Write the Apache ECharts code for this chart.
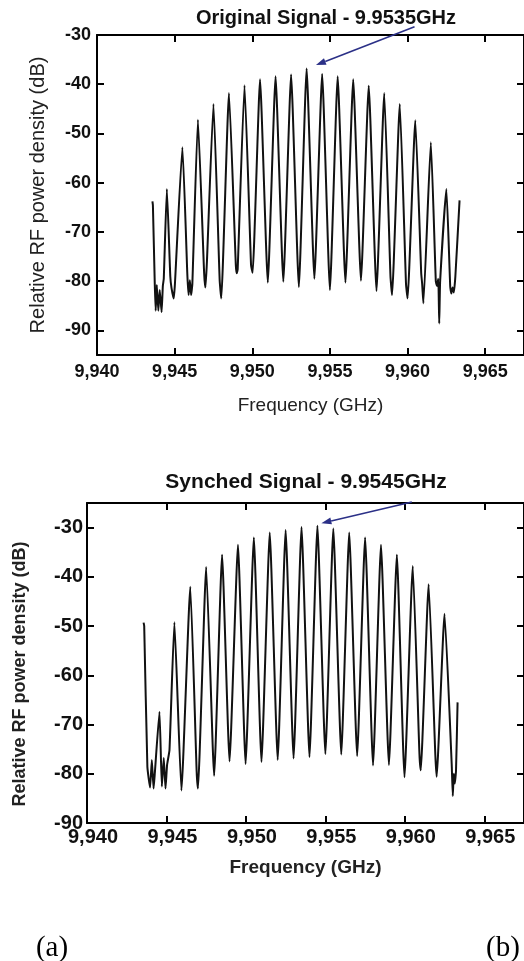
<!DOCTYPE html>
<html><head><meta charset="utf-8">
<script src="https://cdn.jsdelivr.net/npm/echarts@6/dist/echarts.min.js"></script>
<style>html,body{margin:0;padding:0;background:#fff}#c{width:524px;height:961px}</style>
</head><body><div id="c"></div>
<script>
// ---------- data ----------
const xTickValues = [9.940, 9.945, 9.950, 9.955, 9.960, 9.965];
const yTickValues = [-90, -80, -70, -60, -50, -40, -30];
const titleTop = 'Original Signal - 9.9535GHz';
const titleBottom = 'Synched Signal - 9.9545GHz';
const xName = 'Frequency (GHz)';
const yName = 'Relative RF power density (dB)';

// Original signal trace (GHz, dB)
const origFreq = [9.94357,9.94360,9.94372,9.94378,9.94385,9.94395,9.94404,9.94416,9.94424,9.94430,
  9.94450,9.94472,9.94480,9.94494,9.94502,
  9.94550,9.94582,9.94590,9.94598,9.94606,9.94614,
  9.94650,9.94690,9.94698,9.94708,
  9.94750,9.94790,9.94800,
  9.94850,9.94894,9.94900,9.94906,
  9.94950,9.94992,9.95002,
  9.95050,9.95100,9.95150,9.95200,9.95250,9.95300,9.95350,9.95400,9.95450,9.95500,
  9.95550,9.95600,9.95650,9.95700,9.95750,9.95800,9.95850,9.95890,9.95900,
  9.95950,9.95990,9.96000,
  9.96050,9.96088,9.96094,9.96102,
  9.96150,9.96182,9.96190,9.96198,9.96204,9.96210,
  9.96250,9.96275,9.96282,9.96290,9.96298,9.96308,9.96335];
const origDb = [-63.8,-64.6,-80.5,-86.0,-80.8,-86.0,-81.8,-86.3,-81.0,-79.5,
  -61.3,-79.0,-81.4,-83.5,-80.5,
  -52.8,-78.8,-82.8,-79.8,-82.8,-80.6,
  -47.2,-78.4,-81.3,-76.0,
  -44.0,-79.8,-83.5,
  -41.8,-76.7,-78.4,-77.6,
  -40.2,-76.7,-78.3,
  -39.0,-80.3,-38.4,-80.1,-38.0,-81.2,-36.8,-79.5,-37.9,-81.8,
  -38.4,-80.3,-39.0,-79.9,-40.3,-82.0,-41.8,-79.0,-82.8,
  -44.0,-80.5,-83.5,
  -47.3,-78.4,-80.5,-84.5,
  -51.8,-80.0,-81.0,-79.5,-88.6,-80.0,
  -61.3,-81.2,-82.5,-81.3,-82.3,-79.0,-63.6];

// Synched signal trace (GHz, dB)
const syncFreq = [9.94356,9.94360,9.94380,9.94397,9.94408,9.94419,9.94427,
  9.94456,9.94471,9.94483,9.94494,9.94504,9.94519,
  9.94550,9.94594,9.94650,9.94690,9.94698,
  9.94750,9.94792,9.94800,
  9.94850,9.94897,9.94950,9.94998,9.95050,9.95098,9.95150,9.95200,9.95250,9.95300,
  9.95350,9.95400,9.95450,9.95500,9.95550,9.95600,9.95650,9.95700,9.95750,9.95800,
  9.95850,9.95900,9.95950,9.95998,9.96050,9.96092,9.96100,
  9.96150,9.96192,9.96200,9.96250,9.96295,9.96302,9.96308,9.96314,9.96322,9.96332];
const syncDb = [-49.3,-50.0,-78.6,-82.8,-77.2,-83.0,-79.8,
  -67.4,-82.6,-76.8,-83.0,-78.2,-75.2,
  -49.2,-83.4,-42.0,-79.5,-83.0,
  -38.0,-75.2,-80.4,
  -35.5,-77.5,-33.5,-78.0,-32.0,-77.6,-31.0,-77.2,-30.5,-76.9,
  -29.9,-76.6,-29.6,-76.0,-30.2,-76.1,-31.0,-76.4,-32.0,-78.3,
  -33.5,-78.2,-35.5,-80.7,-37.8,-76.0,-79.3,
  -41.5,-76.2,-80.6,-47.5,-78.0,-84.5,-80.0,-82.0,-79.5,-65.5];

// annotation arrows in data space: [fromX, fromY, toX, toY]
const arrowTop = [9.96045, -28.3, 9.95410, -36.1];
const arrowBottom = [9.96044, -24.8, 9.95475, -29.1];

// ---------- chart ----------
const zip = (a, b) => a.map((v, i) => [v, b[i]]);
const fmtX = v => v.toFixed(3).replace('.', ',');
const SANS = 'Liberation Sans';
const AX = {color: '#000', width: 2};

function mainX(grid, fs, bold, nameFs, nameBold, nameGap, margin, pad) {
  return {
    type: 'value', gridIndex: grid, position: 'bottom', min: 9.940, max: 9.9675,
    name: xName, nameLocation: 'middle', nameGap: nameGap,
    nameTextStyle: {fontFamily: SANS, fontSize: nameFs, fontWeight: nameBold ? 'bold' : 'normal', color: '#222'},
    axisLine: {show: true, onZero: false, lineStyle: AX},
    axisTick: {show: true, inside: true, length: 7, lineStyle: AX, customValues: xTickValues},
    axisLabel: {show: true, margin: margin, fontFamily: SANS, fontSize: fs, fontWeight: bold ? 'bold' : 'normal',
      color: '#111', formatter: fmtX, customValues: xTickValues, padding: pad},
    splitLine: {show: false}
  };
}
function topX(grid) {
  return {
    type: 'value', gridIndex: grid, position: 'top', min: 9.940, max: 9.9675,
    axisLine: {show: true, onZero: false, lineStyle: AX},
    axisTick: {show: true, inside: true, length: 7, lineStyle: AX, customValues: xTickValues},
    axisLabel: {show: false}, splitLine: {show: false}
  };
}
function leftY(grid, min, max, fs, bold, nameFs, nameBold, nameGap, margin, pad) {
  return {
    type: 'value', gridIndex: grid, position: 'left', min: min, max: max,
    name: yName, nameLocation: 'middle', nameGap: nameGap, nameRotate: 90,
    nameTextStyle: {fontFamily: SANS, fontSize: nameFs, fontWeight: nameBold ? 'bold' : 'normal', color: '#222', padding: pad},
    axisLine: {show: true, onZero: false, lineStyle: AX},
    axisTick: {show: true, inside: true, length: 7, lineStyle: AX, customValues: yTickValues},
    axisLabel: {show: true, margin: margin, fontFamily: SANS, fontSize: fs, fontWeight: bold ? 'bold' : 'normal',
      color: '#111', customValues: yTickValues},
    splitLine: {show: false}
  };
}
function rightY(grid, min, max) {
  return {
    type: 'value', gridIndex: grid, position: 'right', min: min, max: max,
    axisLine: {show: true, onZero: false, lineStyle: AX},
    axisTick: {show: true, inside: true, length: 7, lineStyle: AX, customValues: yTickValues},
    axisLabel: {show: false}, splitLine: {show: false}
  };
}

const chart = echarts.init(document.getElementById('c'), null, {renderer: 'canvas'});
chart.setOption({
  animation: false,
  backgroundColor: '#fff',
  grid: [
    {left: 97, top: 35, width: 429, height: 320},
    {left: 87, top: 503, width: 440, height: 320}
  ],
  xAxis: [
    mainX(0, 18, true, 19, false, 41, 8, [0, 0, 0, 0]), topX(0),
    mainX(1, 20, true, 19, true, 35, 4, [0, 0, 0, 12]), topX(1)
  ],
  yAxis: [
    leftY(0, -95, -30, 18, true, 20, false, 49, 6, [0, 0, 0, 0]), rightY(0, -95, -30),
    leftY(1, -90, -25, 20, true, 18, true, 58, 4, [0, 22, 0, 0]), rightY(1, -90, -25)
  ],
  series: [
    {type: 'line', xAxisIndex: 0, yAxisIndex: 0, data: zip(origFreq, origDb), showSymbol: false, smooth: 0.15,
      lineStyle: {color: '#111', width: 2, join: 'round'}, silent: true},
    {type: 'line', xAxisIndex: 2, yAxisIndex: 2, data: zip(syncFreq, syncDb), showSymbol: false, smooth: 0.15,
      lineStyle: {color: '#111', width: 2, join: 'round'}, silent: true}
  ]
});

function arrowGraphics(a, xi, yi) {
  const p0 = chart.convertToPixel({xAxisIndex: xi, yAxisIndex: yi}, [a[0], a[1]]);
  const p1 = chart.convertToPixel({xAxisIndex: xi, yAxisIndex: yi}, [a[2], a[3]]);
  const dx = p1[0] - p0[0], dy = p1[1] - p0[1];
  const L = Math.sqrt(dx * dx + dy * dy), ux = dx / L, uy = dy / L;
  const hl = 10, hw = 3.5;
  const bx = p1[0] - ux * hl, by = p1[1] - uy * hl;
  return [
    {type: 'line', shape: {x1: p0[0], y1: p0[1], x2: bx, y2: by}, style: {stroke: '#2b3087', lineWidth: 1.6}, z: 100},
    {type: 'polygon', shape: {points: [[p1[0], p1[1]], [bx - uy * hw, by + ux * hw], [bx + uy * hw, by - ux * hw]]},
      style: {fill: '#2b3087'}, z: 100}
  ];
}
const texts = [
  {type: 'text', x: 326, y: 18, style: {text: titleTop, font: 'bold 20px "Liberation Sans"', fill: '#111', textAlign: 'center', textVerticalAlign: 'middle'}},
  {type: 'text', x: 306, y: 482, style: {text: titleBottom, font: 'bold 21px "Liberation Sans"', fill: '#111', textAlign: 'center', textVerticalAlign: 'middle'}},
  {type: 'text', x: 52, y: 948, style: {text: '(a)', font: '29px "Liberation Serif"', fill: '#000', textAlign: 'center', textVerticalAlign: 'middle'}},
  {type: 'text', x: 503, y: 948, style: {text: '(b)', font: '29px "Liberation Serif"', fill: '#000', textAlign: 'center', textVerticalAlign: 'middle'}}
];
chart.setOption({graphic: texts.concat(arrowGraphics(arrowTop, 0, 0), arrowGraphics(arrowBottom, 2, 2))});
</script>
</body></html>
